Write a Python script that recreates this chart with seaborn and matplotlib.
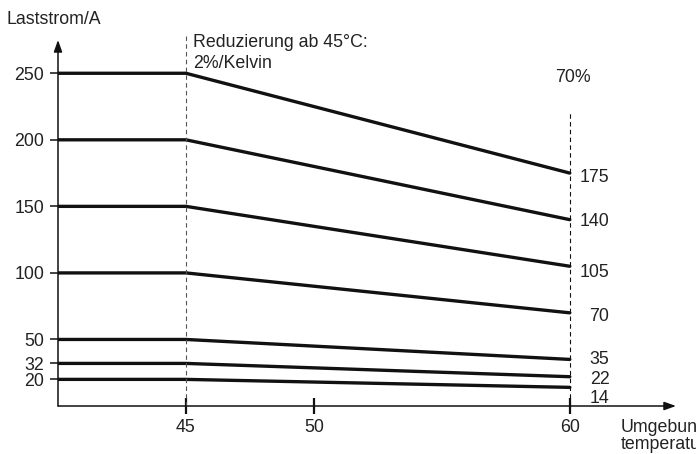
import pandas as pd
import matplotlib
matplotlib.use('Agg')
import matplotlib.pyplot as plt
import seaborn as sns

# Werte aus dem Diagramm
temperaturen = [40, 45, 60]
nennstrom = [250, 200, 150, 100, 50, 32, 20]
reduziert = [175, 140, 105, 70, 35, 22, 14]
x_ticks = [45, 50, 60]
y_ticks = [20, 32, 50, 100, 150, 200, 250]
# Lage der Beschriftungen rechts (etwas versetzt, damit sie sich nicht überlappen)
label_y = [172, 139, 100, 67, 35, 20, 6]

sns.set_style('white')
plt.rcParams['font.family'] = ['Liberation Sans', 'DejaVu Sans']
fs = 12.8
tc = '#222222'

rows = []
for i, (a, b) in enumerate(zip(nennstrom, reduziert)):
    for t, v in zip(temperaturen, [a, a, b]):
        rows.append({'Temp': t, 'Strom': v, 'Kurve': str(i)})
df = pd.DataFrame(rows)

fig = plt.figure(figsize=(6.96, 4.54), dpi=100)
ax = fig.add_axes([58 / 696, 1 - 406 / 454, (676 - 58) / 696, (406 - 40) / 454])

sns.lineplot(data=df, x='Temp', y='Strom', units='Kurve', estimator=None,
             color='#111111', linewidth=2.4, ax=ax, legend=False)

ax.set_xlim(40, 64.15)
ax.set_ylim(0, 275)

# gestrichelte Linien bei 45 und 60 °C
ax.plot([45, 45], [0, 279], ls=(0, (4, 3)), color='#555555', lw=0.8, clip_on=False)
ax.plot([60, 60], [0, 220], ls=(0, (4, 3)), color='#111111', lw=0.8)

for s in ax.spines.values():
    s.set_visible(False)

# Achsen mit Pfeilen
arrow = dict(arrowstyle='-|>,head_length=0.7,head_width=0.25',
             color='#111111', lw=1.1, shrinkA=0, shrinkB=0)
ax.annotate('', xy=(1, 0), xytext=(0, 0), xycoords='axes fraction', arrowprops=arrow)
ax.annotate('', xy=(0, 1), xytext=(0, 0), xycoords='axes fraction', arrowprops=arrow)

ax.set_xticks(x_ticks)
ax.set_xticklabels([str(t) for t in x_ticks])
ax.set_yticks(y_ticks)
ax.set_yticklabels([str(t) for t in y_ticks])
ax.tick_params(axis='x', direction='inout', length=11, width=1.6, color='#111111',
               labelsize=fs, pad=4, labelcolor=tc, bottom=True)
ax.tick_params(axis='y', direction='out', length=6, width=1.1, color='#111111',
               labelsize=fs, pad=4, labelcolor=tc, left=True)
ax.set_xlabel('')
ax.set_ylabel('')

for txt, y in zip(reduziert, label_y):
    ax.text(61.55, y, str(txt), fontsize=fs, va='center', ha='right', color=tc)

fig.text(6 / 696, 1 - 20 / 454, 'Laststrom/A', fontsize=fs, va='center', ha='left', color=tc)
fig.text(193 / 696, 1 - 53 / 454, 'Reduzierung ab 45°C:\n2%/Kelvin', fontsize=fs,
         va='center', ha='left', color=tc, linespacing=1.3)
fig.text(555 / 696, 1 - 78 / 454, '70%', fontsize=fs, va='center', ha='left', color=tc)
fig.text(621 / 696, 1 - 436 / 454, 'Umgebungs-\ntemperatur', fontsize=fs,
         va='center', ha='left', color=tc, linespacing=1.0)

fig.savefig('out.png', dpi=100)
